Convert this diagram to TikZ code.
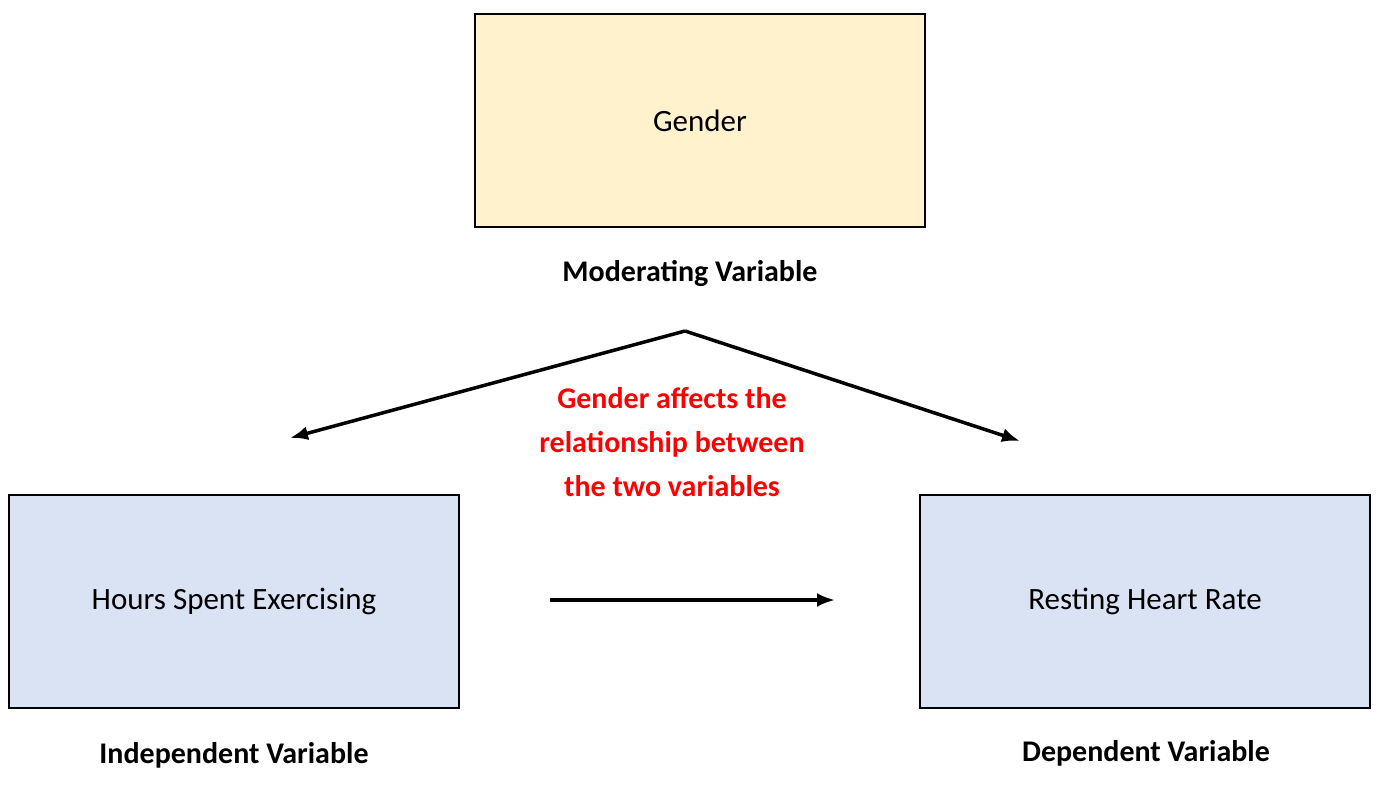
\documentclass[tikz,border=0pt]{standalone}
\usepackage{fontspec}
\setmainfont{Carlito}
\usetikzlibrary{arrows.meta}
\begin{document}
\begin{tikzpicture}[x=1pt,y=-1pt,
  box/.style={draw=black,line width=2.5pt,minimum width=450pt,minimum height=213pt,font=\fontsize{31}{36}\selectfont},
  lab/.style={font=\bfseries\fontsize{30}{36}\selectfont},
  arr/.style={line width=3.5pt,-{Latex[length=18pt,width=14pt]}}]
\useasboundingbox (0,0) rectangle (1383,786);
\node[box,fill={rgb,255:red,255;green,242;blue,204}] (g) at (700,120.5) {Gender};
\node[box,fill={rgb,255:red,218;green,227;blue,243}] (iv) at (234,601.5) {Hours Spent Exercising};
\node[box,fill={rgb,255:red,218;green,227;blue,243}] (dv) at (1145,601.5) {Resting Heart Rate};
\node[lab] (ml) at (690,273) {Moderating Variable};
\node[lab] (il) at (234,755) {Independent Variable};
\node[lab] (dl) at (1146,753) {Dependent Variable};
\node[lab,text=red,align=center,font=\bfseries\fontsize{30}{44}\selectfont] (t) at (672,442) {Gender affects the\\relationship between\\the two variables};
\coordinate (apex) at (685,331);
\coordinate (la) at (290,438);
\coordinate (ra) at (1020,441);
\coordinate (h1) at (550,600);
\coordinate (h2) at (835,600);
\draw[arr] (apex) -- (la);
\draw[arr] (apex) -- (ra);
\draw[arr] (h1) -- (h2);
\end{tikzpicture}
\end{document}
